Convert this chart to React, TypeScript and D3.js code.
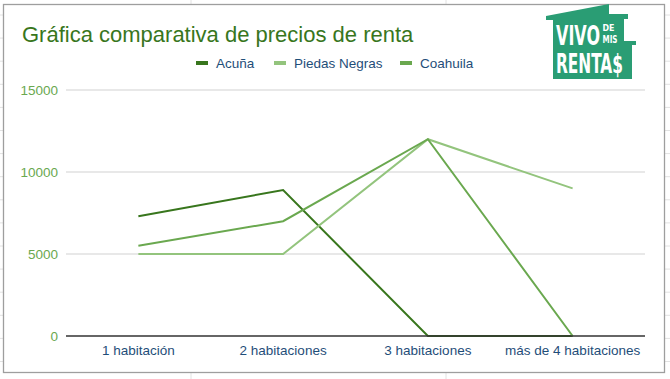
import React, { useLayoutEffect, useRef, useState } from "react";
import * as d3 from "d3";

const categories = ["1 habitación", "2 habitaciones", "3 habitaciones", "más de 4 habitaciones"];
const seriesNames = ["Acuña", "Piedas Negras", "Coahuila"];
const acuna = [7300, 8900, 0, 0];
const piedrasNegras = [5000, 5000, 12000, 9000];
const coahuila = [5500, 7000, 12000, 0];
const yTicks = [0, 5000, 10000, 15000];
const seriesColors = ["#38761d", "#93c47d", "#6aa84f"];

const W = 670;
const H = 379;
const left = 66;
const right = 645;
const top = 90;
const bottom = 336;

const logoFont = "DejaVu Sans Condensed, Liberation Sans Narrow, sans-serif";

function FitText(props: { x: number; y: number; size: number; width: number; text: string }) {
  const ref = useRef<SVGTextElement>(null);
  const [sx, setSx] = useState(1);
  useLayoutEffect(() => {
    if (ref.current) {
      const w = ref.current.getComputedTextLength();
      if (w > 0) setSx(props.width / w);
    }
  }, [props.width, props.text, props.size]);
  return (
    <text
      ref={ref}
      transform={`translate(${props.x},${props.y}) scale(${sx},1)`}
      fontSize={props.size}
      fontWeight="bold"
      fill="#fff"
      fontFamily={logoFont}
    >
      {props.text}
    </text>
  );
}

export default function App() {
  const x = d3.scaleBand<string>().domain(categories).range([left, right]);
  const y = d3.scaleLinear().domain([0, 15000]).range([bottom, top]);
  const data = [acuna, piedrasNegras, coahuila];
  const line = d3
    .line<number>()
    .x((_, i) => (x(categories[i]) as number) + x.bandwidth() / 2)
    .y((d) => y(d));

  const rows = d3.range(15, H, 23.1);
  const legendX = [196, 274, 400];
  const font = "Liberation Sans, Arial, sans-serif";

  return (
    <svg width={W} height={H} style={{ position: "absolute", left: 0, top: 0 }} fontFamily={font}>
      <rect x={0} y={0} width={W} height={H} fill="#fff" />
      {rows.map((r, i) => (
        <line key={"r" + i} x1={0} x2={W} y1={r} y2={r} stroke="#e2e2e2" strokeWidth={1} />
      ))}
      {[191, 446].map((c) => (
        <line key={"c" + c} x1={c} x2={c} y1={0} y2={H} stroke="#e2e2e2" strokeWidth={1} />
      ))}
      <rect x={3.5} y={4.5} width={661} height={368} fill="#fff" stroke="#9e9e9e" strokeWidth={1.3} />

      <text x={22} y={42} fontSize={22} fill="#38761d">
        Gráfica comparativa de precios de renta
      </text>

      {seriesNames.map((n, i) => (
        <g key={n}>
          <rect x={legendX[i]} y={61} width={12} height={4} fill={seriesColors[i]} />
          <text x={legendX[i] + 20} y={68} fontSize={13.5} fill="#1f4e79">
            {n}
          </text>
        </g>
      ))}

      {yTicks.map((t) => (
        <g key={t}>
          {t !== 0 && (
            <line x1={left} x2={right} y1={y(t)} y2={y(t)} stroke="#e0e0e0" strokeWidth={1.6} />
          )}
          <text x={58} y={y(t) + 4.5} fontSize={13.5} fill="#6aa84f" textAnchor="end">
            {t}
          </text>
        </g>
      ))}

      {data.map((s, i) => (
        <path key={i} d={line(s) || ""} fill="none" stroke={seriesColors[i]} strokeWidth={2} />
      ))}
      <line x1={left} x2={right} y1={y(0)} y2={y(0)} stroke="#333" strokeWidth={1.3} />

      {categories.map((c) => (
        <text
          key={c}
          x={(x(c) as number) + x.bandwidth() / 2}
          y={355}
          fontSize={13.5}
          fill="#1f4e79"
          textAnchor="middle"
        >
          {c}
        </text>
      ))}

      <g>
        <polygon
          points="546,16 609,4 609,14 628,14 628,19 624,19 624,41 636,41 636,45 632,45 632,79 553,79 553,20 546,20"
          fill="#2a9d74"
        />
        <FitText x={556} y={45} size={27} width={44} text="VIVO" />
        <FitText x={602.5} y={31} size={9} width={12} text="DE" />
        <FitText x={602.5} y={43} size={10} width={15} text="MIS" />
        <FitText x={556} y={73} size={27} width={67} text="RENTA$" />
      </g>
    </svg>
  );
}
